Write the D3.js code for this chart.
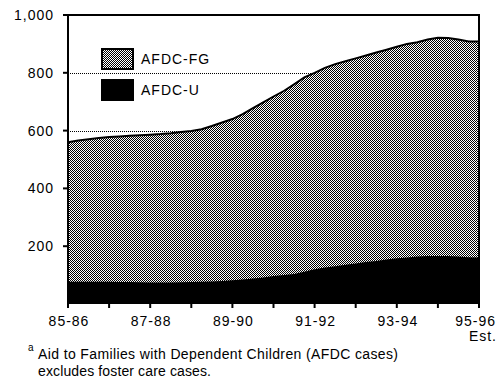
<!DOCTYPE html>
<html>
<head>
<meta charset="utf-8">
<script src="https://cdnjs.cloudflare.com/ajax/libs/d3/7.8.5/d3.min.js"></script>
<style>
  body { margin: 0; background: #fff; }
  svg text { font-family: "Liberation Sans", Arial, sans-serif; fill: #000; }
</style>
</head>
<body>
<script>
// fiscal years (index 0 = 85-86)
var years = [0, 0.25, 0.5, 0.75, 1, 1.25, 1.5, 1.75, 2, 2.25, 2.5, 2.75, 3, 3.25, 3.5, 3.75,
             4, 4.25, 4.5, 4.75, 5, 5.25, 5.5, 5.75, 6, 6.25, 6.5, 6.75, 7, 7.25, 7.5, 7.75,
             8, 8.25, 8.5, 8.75, 9, 9.25, 9.5, 9.75, 10];
// total cases (AFDC-FG + AFDC-U), thousands
var total_cases = [560, 566, 570, 574, 578, 580, 582, 584, 586, 588, 591, 595, 599, 605, 616, 628,
                   640, 657, 678, 698, 718, 737, 760, 784, 800, 817, 830, 840, 850, 860, 870, 880,
                   890, 900, 906, 915, 921, 920, 915, 908, 908];
// AFDC-U cases
var u_cases = [77, 77, 77, 77, 77, 76, 76, 75, 74, 74, 74, 75, 76, 77, 78, 80,
               82, 85, 88, 92, 97, 100, 104, 112, 120, 126, 131, 136, 140, 145, 149, 154,
               158, 161, 164, 166, 166, 166, 164, 162, 161];
var y_ticks = [200, 400, 600, 800, 1000];
var y_grid = [600, 800];
var x_tick_vals = [0, 1, 2, 3, 4, 5, 6, 7, 8, 9, 10];
var x_labels = {0: "85-86", 2: "87-88", 4: "89-90", 6: "91-92", 8: "93-94", 10: "95-96"};
var legend_items = ["AFDC-FG", "AFDC-U"];

var W = 504, H = 386;
var svg = d3.select("body").append("svg").attr("width", W).attr("height", H);

var x = d3.scaleLinear().domain([0, 10]).range([68, 479]);
var y = d3.scaleLinear().domain([0, 1000]).range([304, 15]);

// dithered gray like the original
var defs = svg.append("defs");
var pat = defs.append("pattern").attr("id", "dither")
    .attr("patternUnits", "userSpaceOnUse").attr("width", 2).attr("height", 2);
pat.append("rect").attr("width", 2).attr("height", 2).attr("fill", "#fff");
pat.append("rect").attr("x", 0).attr("y", 0).attr("width", 1).attr("height", 1).attr("fill", "#000");
pat.append("rect").attr("x", 1).attr("y", 1).attr("width", 1).attr("height", 1).attr("fill", "#000");

// dotted gridlines (behind the areas)
svg.selectAll(".grid").data(y_grid).enter().append("line")
    .attr("x1", x(0)).attr("x2", x(10))
    .attr("y1", function(d) { return y(d) + 0.5; })
    .attr("y2", function(d) { return y(d) + 0.5; })
    .attr("stroke", "#000").attr("stroke-width", 1)
    .attr("stroke-dasharray", "1,1").attr("shape-rendering", "crispEdges");

var data = years.map(function(t, i) { return {t: t, total: total_cases[i], u: u_cases[i]}; });

var areaFG = d3.area().x(function(d) { return x(d.t); })
    .y0(y(0)).y1(function(d) { return y(d.total); });
var areaU = d3.area().x(function(d) { return x(d.t); })
    .y0(y(0)).y1(function(d) { return y(d.u); });
var topLine = d3.line().x(function(d) { return x(d.t); }).y(function(d) { return y(d.total); });

svg.append("path").datum(data).attr("d", areaFG).attr("fill", "url(#dither)");
svg.append("path").datum(data).attr("d", areaU).attr("fill", "#000");
svg.append("path").datum(data).attr("d", topLine)
    .attr("fill", "none").attr("stroke", "#000").attr("stroke-width", 2);

// frame: left axis, top and right border
svg.append("line").attr("x1", x(0)).attr("x2", x(0)).attr("y1", y(1000) - 1).attr("y2", y(0) + 4)
    .attr("stroke", "#000").attr("stroke-width", 2);
svg.append("line").attr("x1", x(0)).attr("x2", x(10) + 1).attr("y1", y(1000)).attr("y2", y(1000))
    .attr("stroke", "#000").attr("stroke-width", 2);
svg.append("line").attr("x1", x(10)).attr("x2", x(10)).attr("y1", y(1000)).attr("y2", y(0) + 4)
    .attr("stroke", "#000").attr("stroke-width", 2);

// y ticks + labels
svg.selectAll(".ytick").data(y_ticks).enter().append("line")
    .attr("x1", x(0) - 5).attr("x2", x(0))
    .attr("y1", function(d) { return y(d); }).attr("y2", function(d) { return y(d); })
    .attr("stroke", "#000").attr("stroke-width", 2);
svg.selectAll(".ylab").data(y_ticks).enter().append("text")
    .attr("x", 54).attr("y", function(d) { return y(d); }).attr("dy", "0.36em")
    .attr("text-anchor", "end").attr("font-size", 14).attr("letter-spacing", 1)
    .text(function(d) { return d3.format(",")(d); });

// x ticks + labels
svg.selectAll(".xtick").data(x_tick_vals).enter().append("line")
    .attr("x1", function(d) { return x(d); }).attr("x2", function(d) { return x(d); })
    .attr("y1", y(0)).attr("y2", y(0) + 4)
    .attr("stroke", "#000").attr("stroke-width", 2);
svg.selectAll(".xlab").data(x_tick_vals.filter(function(d) { return x_labels[d]; }))
    .enter().append("text")
    .attr("x", function(d) { return d === 10 ? 496 : x(d) + 1; })
    .attr("y", 326)
    .attr("text-anchor", function(d) { return d === 10 ? "end" : "middle"; })
    .attr("font-size", 14).attr("letter-spacing", 1)
    .text(function(d) { return x_labels[d]; });
svg.append("text").attr("x", 497).attr("y", 341).attr("text-anchor", "end")
    .attr("font-size", 14).attr("letter-spacing", 1).text("Est.");

// legend
var leg = svg.append("g").selectAll("g").data(legend_items).enter().append("g")
    .attr("transform", function(d, i) { return "translate(102," + (49 + i * 31) + ")"; });
leg.append("rect").attr("width", 31).attr("height", 20)
    .attr("fill", function(d, i) { return i === 0 ? "url(#dither)" : "#000"; })
    .attr("stroke", "#000").attr("stroke-width", 2);
leg.append("text").attr("x", 39).attr("y", 15)
    .attr("font-size", 14).attr("letter-spacing", 1)
    .text(function(d) { return d; });

// footnote
svg.append("text").attr("x", 28).attr("y", 351).attr("font-size", 10).text("a");
svg.append("text").attr("x", 38).attr("y", 359).attr("font-size", 14)
    .attr("textLength", 360).attr("lengthAdjust", "spacing")
    .text("Aid to Families with Dependent Children (AFDC cases)");
svg.append("text").attr("x", 38).attr("y", 376).attr("font-size", 14)
    .attr("textLength", 173).attr("lengthAdjust", "spacing")
    .text("excludes foster care cases.");
</script>
</body>
</html>
